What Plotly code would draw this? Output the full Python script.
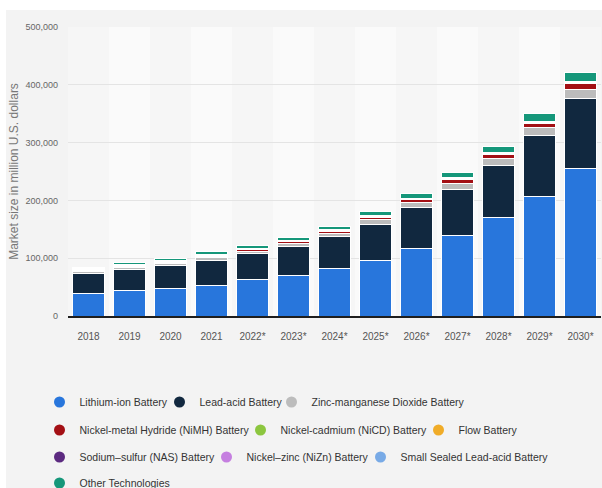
import plotly.graph_objects as go

# Global battery market size by technology (million U.S. dollars)
years = ["2018", "2019", "2020", "2021", "2022*", "2023*", "2024*",
         "2025*", "2026*", "2027*", "2028*", "2029*", "2030*"]

lithium_ion = [39500, 44000, 47000, 52700, 63000, 70000, 82000,
               96300, 117000, 140000, 170000, 207300, 255600]
lead_acid = [34600, 36300, 40200, 42600, 45000, 50000, 55300,
             62200, 69900, 79700, 90400, 105300, 120000]
zinc_manganese = [3500, 3500, 4000, 5500, 4300, 5200, 6100,
                  8000, 9100, 10000, 12000, 13000, 16800]
nimh = [1200, 1200, 1500, 2500, 2600, 3500, 3400,
        4500, 5200, 7000, 6500, 8300, 9000]
nicd = [1300, 1350, 1300, 1150, 800, 800, 750,
        800, 800, 850, 1100, 1050, 1500]
flow = [300, 350, 350, 350, 300, 300, 300,
        350, 350, 400, 500, 450, 750]
nas = [500, 500, 450, 400, 300, 300, 250,
       300, 300, 300, 400, 400, 550]
nizn = [300, 300, 300, 250, 200, 200, 200,
        200, 200, 250, 300, 300, 400]
small_sealed = [1600, 1700, 1600, 1450, 1000, 1000, 900,
                950, 950, 1000, 1300, 1200, 1800]
other = [1400, 3300, 3500, 4300, 4800, 4800, 5500,
         7500, 8000, 8600, 11000, 13600, 14800]

series = [
    ("Lithium-ion Battery", lithium_ion, "#2876dc"),
    ("Lead-acid Battery", lead_acid, "#11283f"),
    ("Zinc-manganese Dioxide Battery", zinc_manganese, "#bcbcbc"),
    ("Nickel-metal Hydride (NiMH) Battery", nimh, "#a30f14"),
    ("Nickel-cadmium (NiCD) Battery", nicd, "#8cc63f"),
    ("Flow Battery", flow, "#f0ac28"),
    ("Sodium\u2013sulfur (NAS) Battery", nas, "#5c2a80"),
    ("Nickel\u2013zinc (NiZn) Battery", nizn, "#c57fe0"),
    ("Small Sealed Lead-acid Battery", small_sealed, "#78aae6"),
    ("Other Technologies", other, "#15977a"),
]

# legend symbol centre (x) and row centre (y), in page pixels
legend_spots = [
    (60, 402), (180, 402), (292, 402),
    (60, 430), (261, 430), (439, 430),
    (60, 457), (227, 457), (381, 457),
    (60, 483),
]

W, H = 602, 488
ML, MR, MT, MB = 68, 1, 27, 172
PW, PH = W - ML - MR, H - MT - MB

FONT = "Liberation Sans, Arial, sans-serif"


def px_to_paper_x(px):
    return (px - ML) / PW


def px_to_paper_y(py):
    return (H - MB - py) / PH


fig = go.Figure()

for name, vals, color in series:
    fig.add_trace(go.Bar(
        x=years, y=vals, name=name, showlegend=False,
        marker=dict(color=color, line=dict(color="white", width=1)),
        hovertemplate="%{x}: %{y:,}<extra>" + name + "</extra>",
    ))

layout_legends = {}
for i, ((name, vals, color), (sx, cy)) in enumerate(zip(series, legend_spots)):
    key = "legend" if i == 0 else f"legend{i + 1}"
    fig.add_trace(go.Scatter(
        x=[None], y=[None], mode="markers", name=name, legend=key,
        marker=dict(symbol="circle", size=11, color=color),
        hoverinfo="skip",
    ))
    layout_legends[key] = dict(
        x=px_to_paper_x(sx - 20.5), xanchor="left",
        y=px_to_paper_y(cy), yanchor="middle",
        orientation="h", bgcolor="rgba(0,0,0,0)", borderwidth=0,
        font=dict(family=FONT, size=10.5, color="#333333"),
        itemclick=False, itemdoubleclick=False,
    )

# page panel and alternating column bands behind the bars
shapes = [
    dict(type="rect", xref="paper", yref="paper",
         x0=px_to_paper_x(6), x1=px_to_paper_x(W + 2),
         y0=px_to_paper_y(H + 2), y1=px_to_paper_y(10),
         fillcolor="#f3f3f3", line=dict(width=0), layer="below"),
]
for i in range(len(years)):
    shapes.append(dict(
        type="rect", xref="x", yref="paper",
        x0=i - 0.5, x1=i + 0.5, y0=0, y1=1,
        fillcolor="#fafafa" if i % 2 == 1 else "#f6f6f6",
        line=dict(width=0), layer="below"))

fig.update_layout(
    width=W, height=H,
    margin=dict(l=ML, r=MR, t=MT, b=MB, autoexpand=False),
    paper_bgcolor="white", plot_bgcolor="#f6f6f6",
    barmode="stack", bargap=0.24,
    shapes=shapes,
    **layout_legends,
    xaxis=dict(
        type="category", categoryorder="array", categoryarray=years,
        showline=True, linecolor="#1e1e1e", linewidth=2,
        showgrid=False, ticks="", ticklabelstandoff=10,
        tickfont=dict(family=FONT, size=10, color="#555555"),
        fixedrange=True,
    ),
    yaxis=dict(
        range=[0, 500000], dtick=100000, tickformat=",d",
        showgrid=True, gridcolor="#e4e4e4", gridwidth=1,
        zeroline=False, showline=False, ticks="", ticklabelstandoff=9,
        tickfont=dict(family=FONT, size=9, color="#666666"),
        title=dict(text="Market size in million U.S. dollars",
                   font=dict(family=FONT, size=12, color="#777777"),
                   standoff=4),
        fixedrange=True,
    ),
    font=dict(family=FONT),
)

fig.write_html("out.html")
